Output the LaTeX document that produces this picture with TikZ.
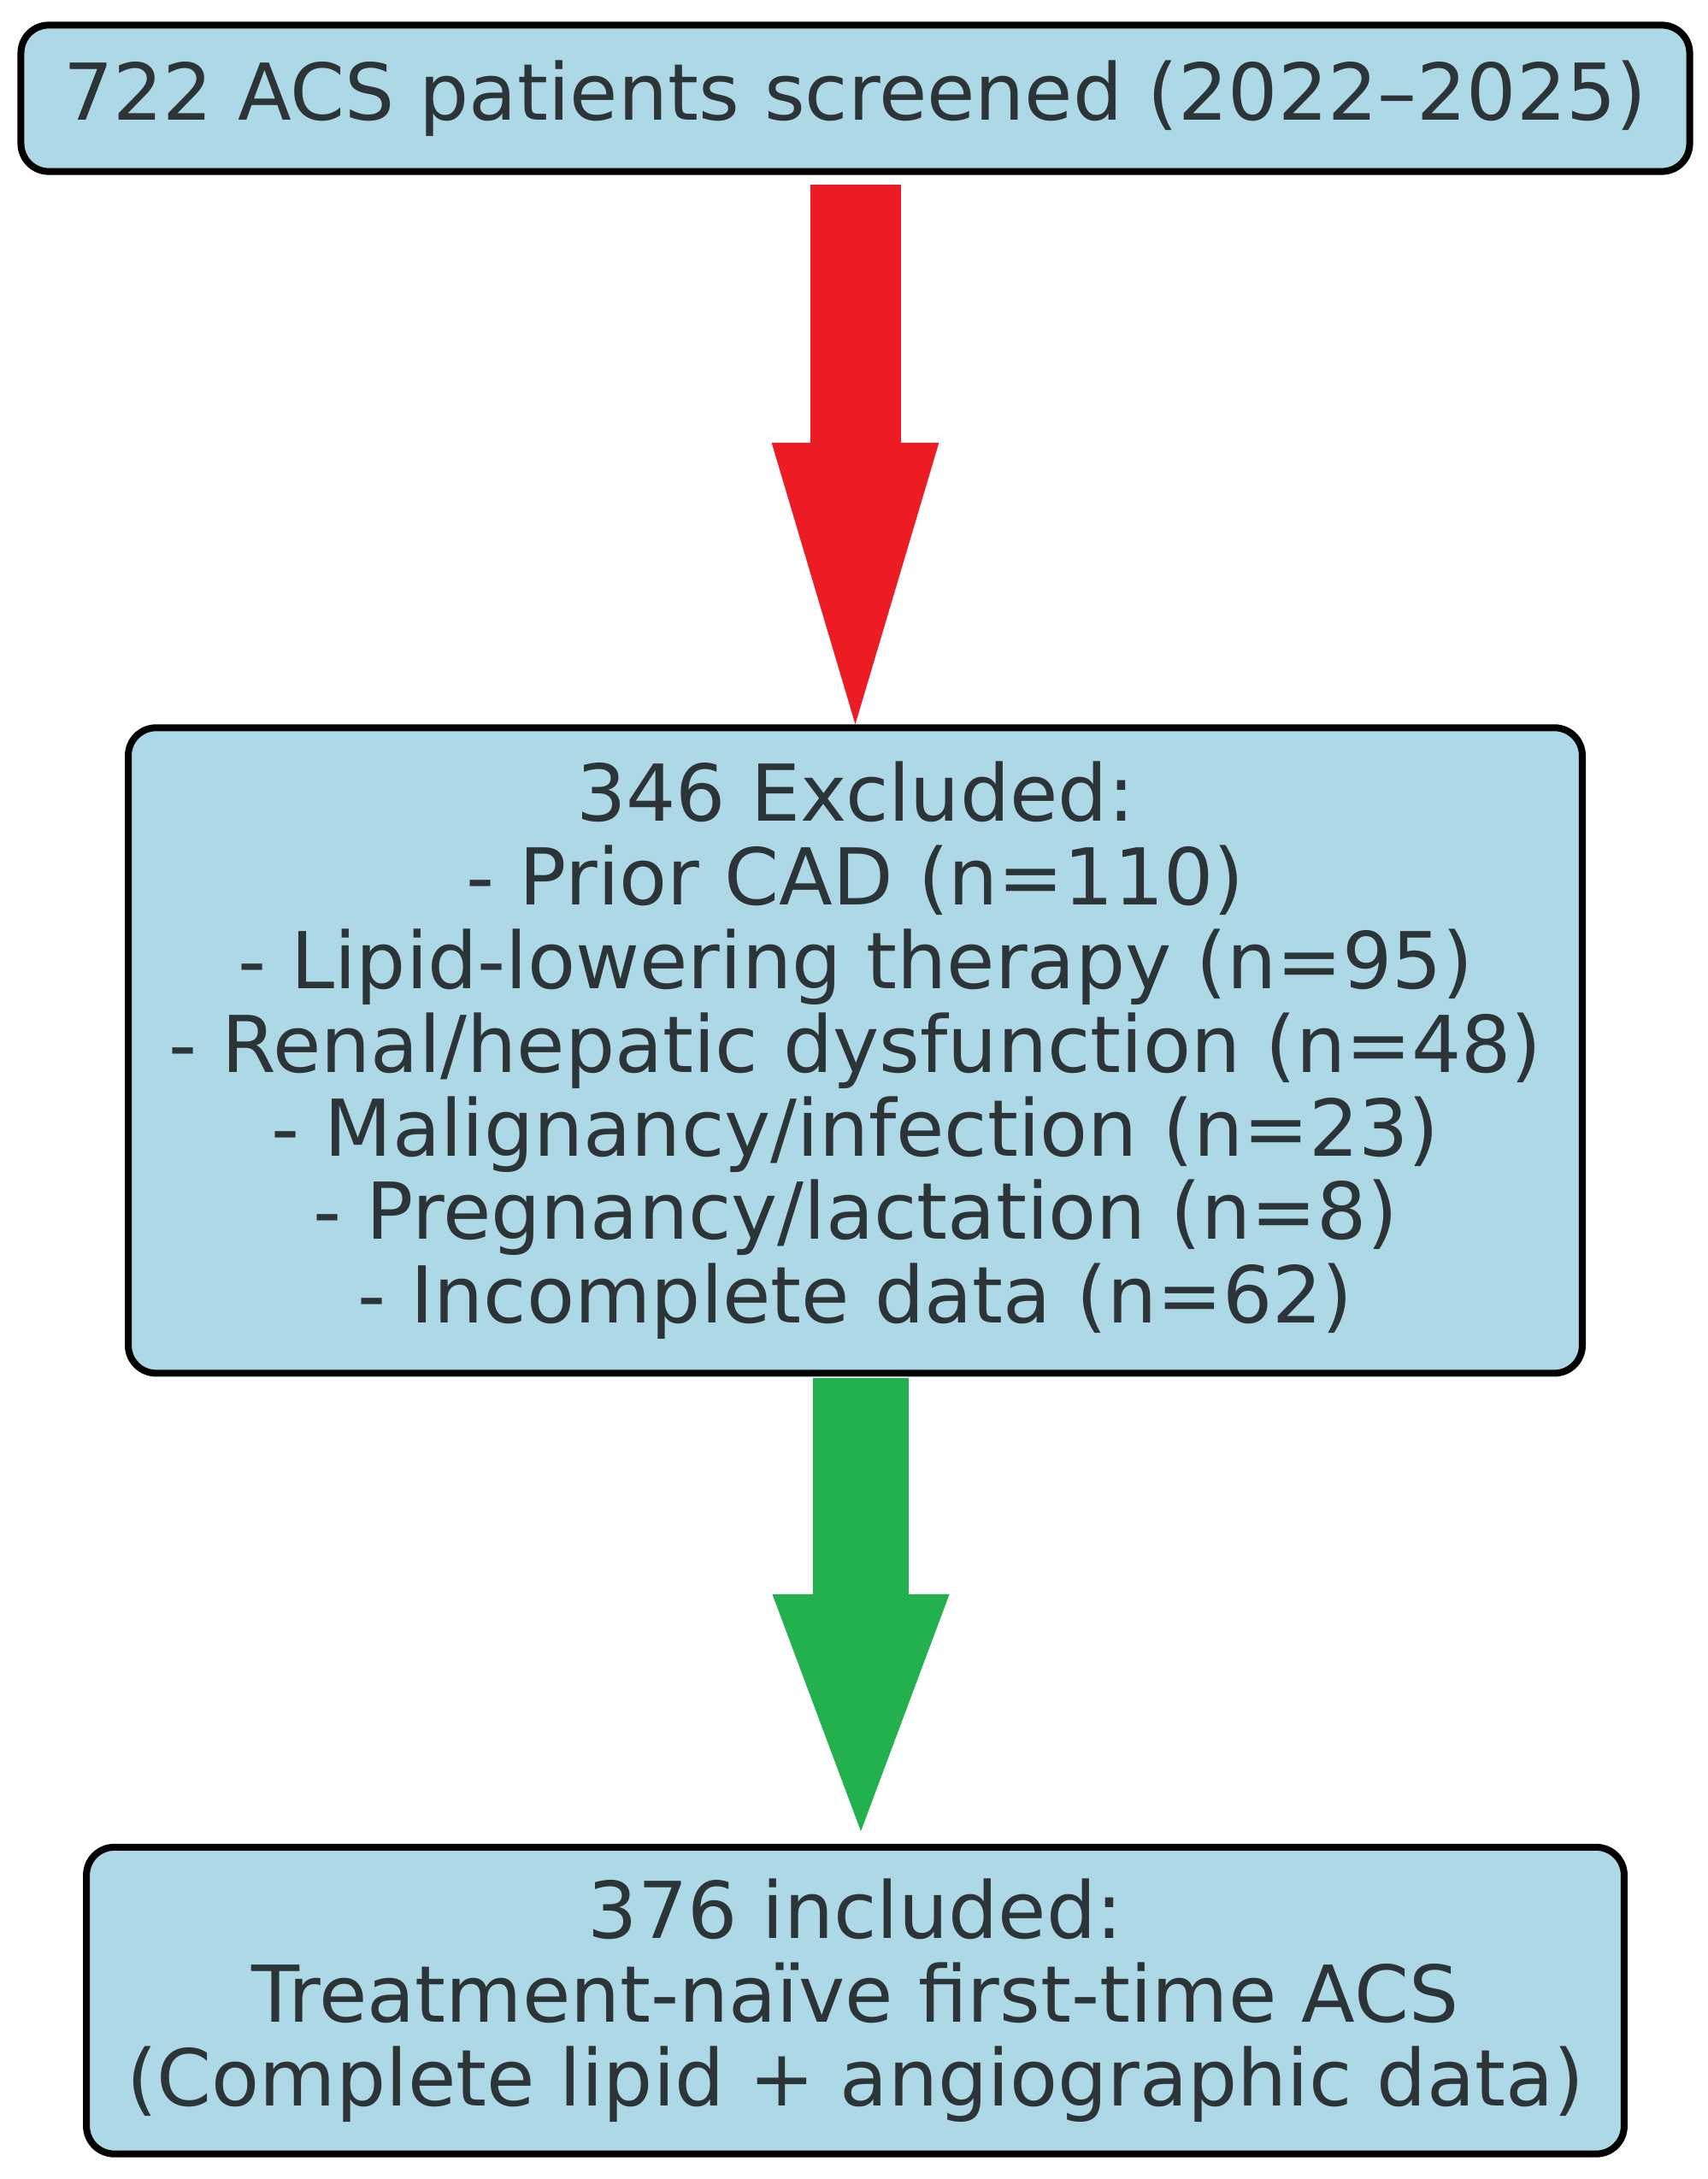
\documentclass[tikz,border=0pt]{standalone}
\usepackage{fontspec}
\setmainfont{DejaVu Sans}
\usepackage{tikz}
\usepackage{xcolor}
\definecolor{boxblue}{RGB}{173,216,230}
\definecolor{inkgray}{RGB}{45,52,56}
\definecolor{red}{RGB}{237,28,36}
\definecolor{green}{RGB}{34,177,76}
\usetikzlibrary{arrows.meta}
\tikzset{
    box/.style = {draw=black, line width=1.4pt, fill=boxblue, rounded corners=0.2cm,
        align=center, text=inkgray, inner sep=0pt,
        font=\fontsize{16}{17.07}\selectfont},
    redarrow/.style = {draw=red, line width=0.65cm,
        -{Triangle[length=2.02cm, width=1.2cm, line width=0pt]}},
    greenarrow/.style = {draw=green, line width=0.69cm,
        -{Triangle[length=1.70cm, width=1.27cm, line width=0pt]}}
}
\begin{document}
\begin{tikzpicture}[line join=round,x=1.0cm,y=1.0cm]
\useasboundingbox (0,0) rectangle (12.25,-15.63);
\node[box, minimum width=11.97cm, minimum height=1.05cm] (screened) at (6.135,-0.705)
    {722 ACS patients screened (2022–2025)};
\node[box, minimum width=10.43cm, minimum height=4.63cm] (excluded) at (6.135,-7.535)
    {346 Excluded:\\- Prior CAD (n=110)\\- Lipid-lowering therapy (n=95)\\- Renal/hepatic dysfunction (n=48)\\- Malignancy/infection (n=23)\\- Pregnancy/lactation (n=8)\\- Incomplete data (n=62)};
\node[box, minimum width=11.03cm, minimum height=2.2cm] (included) at (6.135,-14.35)
    {376 included:\\Treatment-naïve first-time ACS\\(Complete lipid + angiographic data)};

\draw [redarrow, shorten <=0.07cm] (screened.south) -- (excluded.north);
\draw [greenarrow, shorten <=0.01cm, shorten >=0.09cm] ([xshift=0.04cm]excluded.south) -- ([xshift=0.04cm]included.north);
\end{tikzpicture}
\end{document}
